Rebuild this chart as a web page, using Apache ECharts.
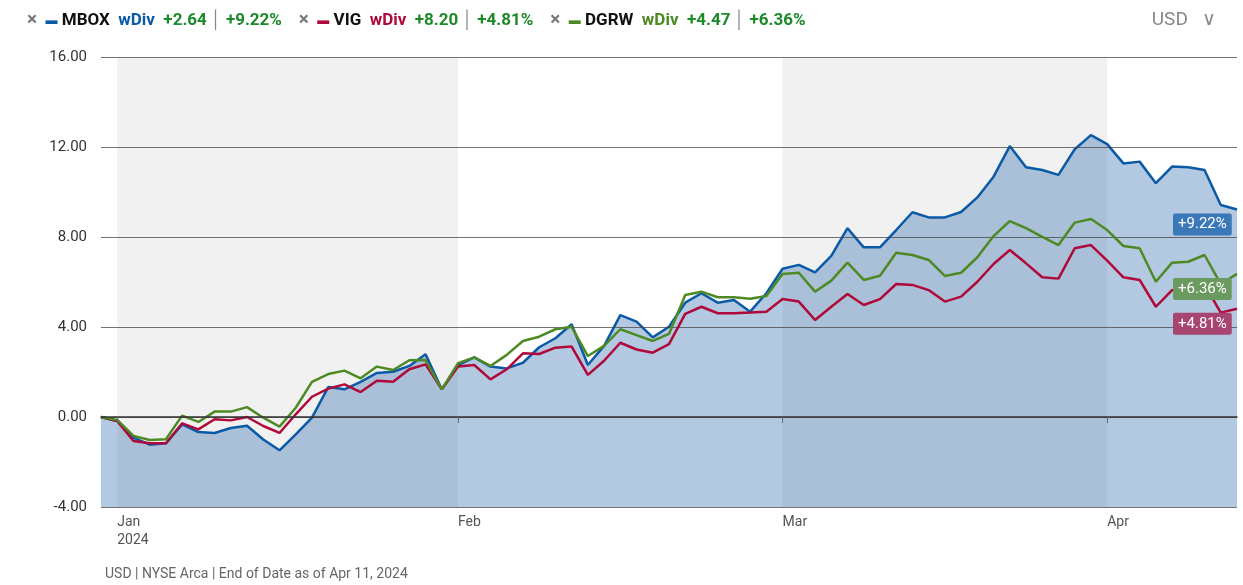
<!DOCTYPE html>
<html>
<head>
<meta charset="utf-8">
<script src="https://cdn.jsdelivr.net/npm/echarts@6/dist/echarts.min.js"></script>
<style>
  html, body { margin: 0; padding: 0; background: #fff; }
  #main { width: 1243px; height: 585px; }
</style>
</head>
<body>
<div id="main"></div>
<script>
// trading days, Dec 29 2023 .. Apr 11 2024
const dates = ['2023-12-29',
  '2024-01-02','2024-01-03','2024-01-04','2024-01-05','2024-01-08','2024-01-09','2024-01-10','2024-01-11','2024-01-12',
  '2024-01-16','2024-01-17','2024-01-18','2024-01-19','2024-01-22','2024-01-23','2024-01-24','2024-01-25','2024-01-26',
  '2024-01-29','2024-01-30','2024-01-31',
  '2024-02-01','2024-02-02','2024-02-05','2024-02-06','2024-02-07','2024-02-08','2024-02-09','2024-02-12','2024-02-13',
  '2024-02-14','2024-02-15','2024-02-16','2024-02-20','2024-02-21','2024-02-22','2024-02-23','2024-02-26','2024-02-27',
  '2024-02-28','2024-02-29',
  '2024-03-01','2024-03-04','2024-03-05','2024-03-06','2024-03-07','2024-03-08','2024-03-11','2024-03-12','2024-03-13',
  '2024-03-14','2024-03-15','2024-03-18','2024-03-19','2024-03-20','2024-03-21','2024-03-22','2024-03-25','2024-03-26',
  '2024-03-27','2024-03-28',
  '2024-04-01','2024-04-02','2024-04-03','2024-04-04','2024-04-05','2024-04-08','2024-04-09','2024-04-10','2024-04-11'];

const mbox = [0, -0.18, -0.92, -1.23, -1.17, -0.33, -0.67, -0.71, -0.49, -0.39, -1.0, -1.48, -0.77, -0.03, 1.33, 1.23,
  1.56, 1.96, 2.01, 2.27, 2.79, 1.23, 2.31, 2.65, 2.24, 2.16, 2.41, 3.10, 3.50, 4.12, 2.31, 3.16, 4.53, 4.24, 3.54, 4.01,
  5.08, 5.50, 5.08, 5.20, 4.68, 5.50, 6.59, 6.76, 6.43, 7.16, 8.39, 7.54, 7.54, 8.31, 9.10, 8.87, 8.87, 9.11, 9.76, 10.68,
  12.04, 11.10, 10.98, 10.76, 11.90, 12.53, 12.13, 11.27, 11.35, 10.39, 11.13, 11.10, 10.98, 9.42, 9.22];
const vig = [0, -0.18, -1.07, -1.17, -1.17, -0.28, -0.55, -0.10, -0.15, 0, -0.40, -0.71, 0.12, 0.90, 1.26, 1.45,
  1.11, 1.61, 1.57, 2.12, 2.34, 1.23, 2.24, 2.31, 1.67, 2.12, 2.83, 2.80, 3.08, 3.13, 1.87, 2.50, 3.30, 3.00, 2.86, 3.24,
  4.58, 4.90, 4.61, 4.61, 4.64, 4.68, 5.24, 5.13, 4.31, 4.90, 5.47, 4.98, 5.24, 5.91, 5.87, 5.64, 5.13, 5.35, 6.01, 6.80,
  7.42, 6.83, 6.21, 6.15, 7.50, 7.64, 6.95, 6.21, 6.09, 4.90, 5.64, 5.79, 5.87, 4.64, 4.81];
const dgrw = [0, -0.13, -0.84, -1.02, -0.99, 0.06, -0.22, 0.24, 0.24, 0.44, -0.03, -0.43, 0.41, 1.56, 1.91, 2.06,
  1.72, 2.24, 2.09, 2.52, 2.53, 1.23, 2.39, 2.65, 2.27, 2.76, 3.38, 3.57, 3.90, 4.01, 2.71, 3.16, 3.90, 3.64, 3.38, 3.69,
  5.42, 5.57, 5.32, 5.32, 5.26, 5.38, 6.36, 6.41, 5.57, 6.06, 6.86, 6.09, 6.28, 7.30, 7.20, 6.98, 6.27, 6.41, 7.10, 8.04,
  8.71, 8.39, 8.01, 7.64, 8.64, 8.80, 8.31, 7.60, 7.50, 6.01, 6.86, 6.90, 7.20, 5.91, 6.36];

const yTicks = [-4, 0, 4, 8, 12, 16];
const monthStarts = { '2024-01-02': 'Jan\n2024', '2024-02-01': 'Feb', '2024-03-01': 'Mar', '2024-04-01': 'Apr' };
const shadedMonths = [['2024-01-02', '2024-02-01'], ['2024-03-01', '2024-04-01']];

const FONT = "Roboto, sans-serif";
const C_MBOX = '#0b5aa8', C_VIG = '#b00839', C_DGRW = '#4d8a24', C_GREEN = '#1d8a2a';

function endLabel(bg) {
  return {
    show: true, offset: [-72, 15],
    formatter: p => '+' + p.value.toFixed(2) + '%',
    backgroundColor: bg, color: '#fff', padding: [4, 5, 3, 5], borderRadius: 2,
    fontFamily: FONT, fontSize: 15
  };
}

const chart = echarts.init(document.getElementById('main'));
chart.setOption({
  animation: false,
  textStyle: { fontFamily: FONT },
  title: [{
    left: 22, top: 6,
    text: '{x|×}  {mb|▬} {n|MBOX}  {wb|wDiv}  {g|+2.64} {s|│} {g|+9.22%}    ' +
          '{x|×}  {mv|▬} {n|VIG}  {wv|wDiv}  {g|+8.20} {s|│} {g|+4.81%}    ' +
          '{x|×}  {mg|▬} {n|DGRW}  {wg|wDiv}  {g|+4.47} {s|│} {g|+6.36%}',
    textStyle: {
      fontFamily: FONT, fontSize: 17,
      rich: {
        x: { color: '#777', fontSize: 19, fontFamily: FONT },
        mb: { color: C_MBOX, fontSize: 12 }, mv: { color: C_VIG, fontSize: 12 }, mg: { color: C_DGRW, fontSize: 12 },
        n: { color: '#111', fontSize: 17, fontWeight: 'bold', fontFamily: FONT },
        wb: { color: C_MBOX, fontSize: 17, fontFamily: FONT },
        wv: { color: C_VIG, fontSize: 17, fontFamily: FONT },
        wg: { color: C_DGRW, fontSize: 17, fontFamily: FONT },
        g: { color: C_GREEN, fontSize: 17, fontFamily: FONT },
        s: { color: '#888', fontSize: 17 }
      }
    }
  }, {
    right: 22, top: 6, text: 'USD   ∨',
    textStyle: { color: '#888', fontSize: 19, fontWeight: 'normal', fontFamily: FONT }
  }, {
    left: 100, top: 562, text: 'USD | NYSE Arca | End of Date as of Apr 11, 2024',
    textStyle: { color: '#666', fontSize: 14, fontWeight: 'normal', fontFamily: FONT }
  }],
  grid: { left: 101, right: 6, top: 57, bottom: 78 },
  xAxis: {
    type: 'category', data: dates, boundaryGap: false, z: 10,
    axisLine: { lineStyle: { color: '#333', width: 1.5 } },
    axisTick: { show: true, length: 6, interval: (i, v) => !!monthStarts[v], lineStyle: { color: '#666' } },
    axisLabel: {
      interval: (i, v) => !!monthStarts[v], formatter: v => monthStarts[v] || '',
      align: 'left', color: '#555', fontSize: 14, lineHeight: 18, margin: 6
    }
  },
  yAxis: {
    type: 'value', min: yTicks[0], max: yTicks[yTicks.length - 1], interval: 4, z: 3,
    axisLine: { show: false }, axisTick: { show: false },
    splitLine: { lineStyle: { color: 'rgba(70,70,70,0.75)', width: 1 } },
    axisLabel: { formatter: v => v.toFixed(2), color: '#333', fontSize: 15, padding: [22, 0, 0, 0], margin: 14 }
  },
  series: [{
    type: 'line', data: [], z: 1, silent: true,
    markArea: {
      silent: true, itemStyle: { color: '#f1f1f1' },
      data: shadedMonths.map(m => [{ xAxis: m[0] }, { xAxis: m[1] }])
    }
  }, {
    name: 'MBOX', type: 'line', z: 2, symbol: 'none',
    data: mbox, endLabel: endLabel('#3b78b8'),
    lineStyle: { color: C_MBOX, width: 2.5 },
    areaStyle: { color: 'rgba(40,100,170,0.5)', origin: 'start' }
  }, {
    name: 'VIG', type: 'line', z: 4, symbol: 'none',
    data: vig, endLabel: endLabel('#a84470'),
    lineStyle: { color: C_VIG, width: 2.5 }
  }, {
    name: 'DGRW', type: 'line', z: 5, symbol: 'none',
    data: dgrw, endLabel: endLabel('#6a9a60'),
    lineStyle: { color: C_DGRW, width: 2.5 }
  }]
});
</script>
</body>
</html>
